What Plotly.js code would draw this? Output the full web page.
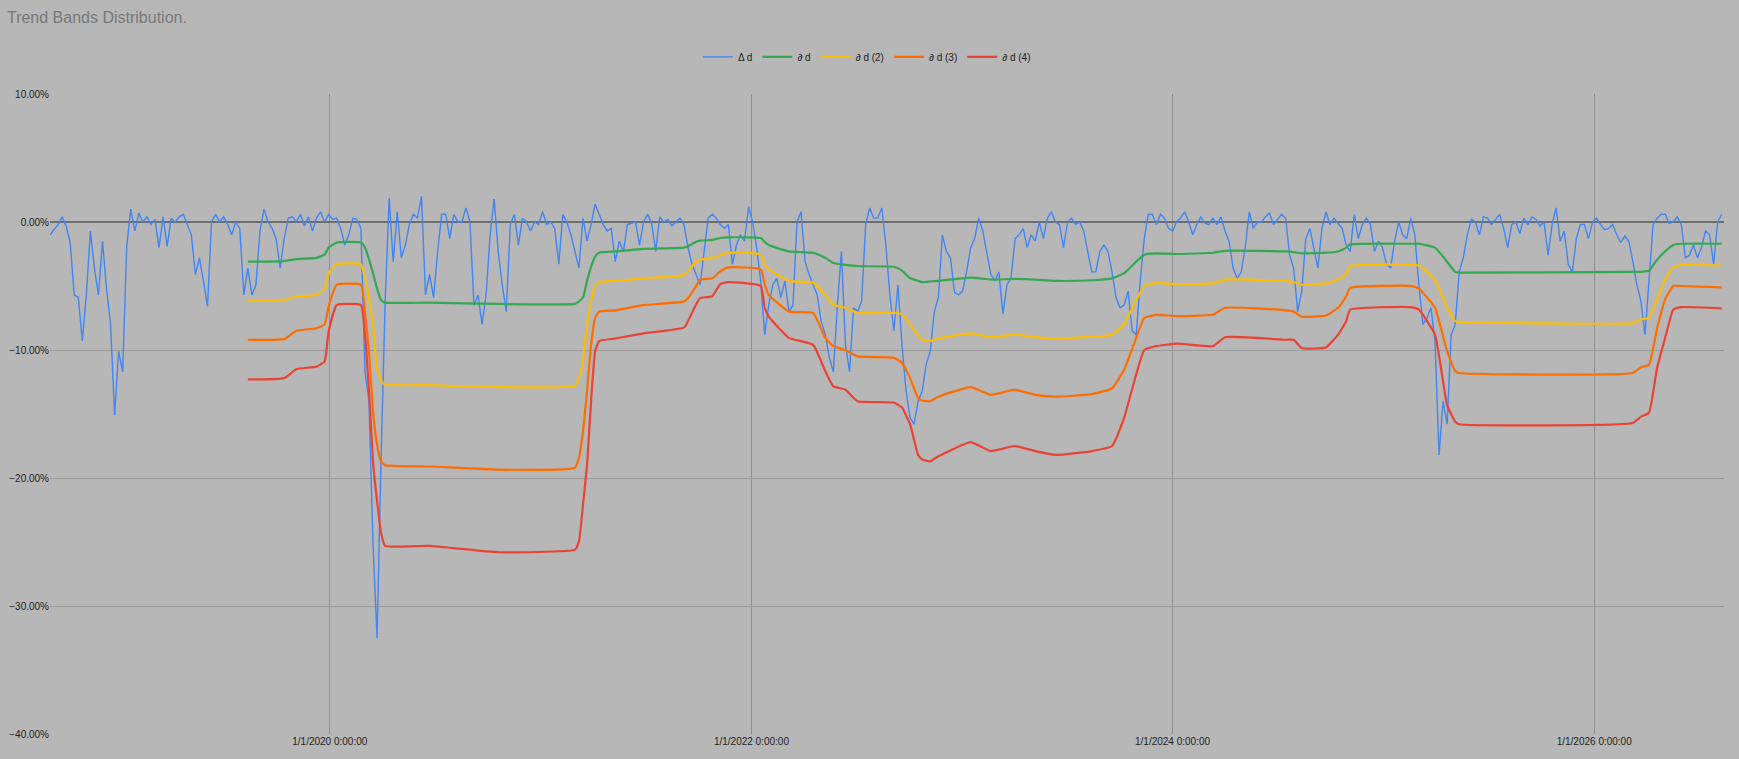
<!DOCTYPE html>
<html>
<head>
<meta charset="utf-8">
<script src="https://cdn.plot.ly/plotly-3.0.1.min.js"></script>
<style>
  html, body { margin: 0; padding: 0; background: #b7b7b7; }
  #plotly { width: 1739px; height: 759px; }
</style>
</head>
<body>
<div id="plotly"></div>
<script>
// weekly samples, first one on 2018-09-03 (percent values)
var startDate = '2018-09-03';

var deltaD = [
  -1.0,-0.6,-0.2,0.4,-0.3,-1.6,-5.7,-5.9,-9.3,-5.7,
  -0.7,-3.6,-5.7,-1.5,-5.2,-8.0,-15.1,-10.1,-11.7,-1.9,
  1.0,-0.7,0.7,0,0.4,-0.2,0.2,-2.0,0.4,-1.9,
  0.3,0,0.4,0.6,-0.2,-1.0,-4.1,-2.8,-4.6,-6.6,
  0,0.6,0,0.4,-0.2,-1.0,0,-0.5,-5.7,-3.6,
  -5.7,-4.9,-0.7,1.0,0,-0.5,-1.3,-3.6,-1.3,0.3,
  0.4,0,0.6,-0.3,0.4,-0.7,0.3,0.8,0,0.6,
  0.2,0.3,-0.5,-1.8,-1.0,0.3,0.2,-0.5,-11.7,-14.0,
  -25.2,-32.5,-18.4,-6.2,1.9,-3.1,0.8,-2.8,-1.8,-0.2,
  0.6,0.3,2.0,-5.7,-4.1,-5.9,-2.3,0.6,0.6,-1.3,
  0.6,0,0,1.1,0,-6.5,-5.7,-8.0,-5.7,-1.0,
  1.8,-2.3,-4.9,-7.0,-0.2,0.6,-1.8,0.3,0,-0.7,
  0,-0.2,0.8,-0.2,0,-0.5,-3.3,0.6,0,-1.0,
  -2.3,-3.6,0.3,-1.5,-0.2,1.4,0.6,-0.2,-0.7,-0.5,
  -3.1,-1.5,-2.3,-0.2,-0.1,0,-1.8,0,0.6,-0.1,
  -2.3,0.4,0,0.2,-0.3,0,0.3,-0.2,-2.0,-3.3,
  -4.1,-4.9,-2.3,0.3,0.6,0.3,-0.2,-0.5,-0.2,-3.3,
  -1.8,-1.0,-1.5,1.2,0,-2.0,-4.6,-8.8,-6.5,-4.9,
  -4.4,-5.9,-4.6,-7.0,-6.5,0,0.8,-3.1,-4.1,-4.9,
  -5.7,-7.8,-8.8,-10.6,-11.7,-6.5,-2.3,-9.6,-11.7,-6.7,
  -7.0,-6.2,-0.2,1.1,0.3,0.3,1.1,-1.8,-5.7,-8.5,
  -4.9,-9.6,-13.2,-15.3,-15.8,-14.0,-13.2,-11.1,-10.1,-7.0,
  -5.9,-1.0,-2.3,-2.8,-5.5,-5.7,-5.4,-3.9,-2.0,-1.3,
  0.3,-0.7,-2.3,-4.1,-4.6,-3.9,-7.2,-4.9,-4.4,-1.3,
  -1.0,-0.5,-2.0,-1.0,-1.5,0,-1.3,0.3,0.8,0,
  -0.2,-2.0,0,0.3,-0.2,0,-0.7,-2.3,-3.9,-3.9,
  -2.3,-1.8,-2.3,-3.9,-5.9,-6.7,-6.5,-5.4,-8.5,-8.8,
  -4.6,-1.3,0.6,0.6,-0.2,0.6,0.3,-0.5,-0.7,0,
  0.3,0.8,0,-1.0,-0.2,0.4,-0.1,-0.2,0.3,-0.2,
  0.4,-0.7,-1.5,-3.6,-4.4,-3.9,-2.0,0.8,-0.5,0,
  0,0.4,0.7,-0.2,0.2,0.6,0.3,-2.6,-3.6,-7.0,
  -5.4,-1.3,-0.5,-2.0,-3.6,-0.5,0.8,-0.2,0.3,-0.1,
  -0.5,-1.8,-2.3,0.6,-1.3,-0.2,0.3,-0.2,-2.3,-1.5,
  -2.0,-3.3,-3.6,-1.5,0,-1.0,-1.3,0.3,-1.0,-4.9,
  -8.0,-7.5,-6.7,-9.3,-18.2,-14.0,-15.8,-8.8,-8.0,-3.9,
  -2.8,-1.0,0.2,0,-1.0,0.4,0.3,-0.2,0.2,0.6,
  -0.5,-2.0,-0.2,0,-0.9,0.3,-0.2,0.4,0.2,-0.3,
  0,-2.6,-0.2,1.1,-1.5,-0.7,-3.3,-3.9,-1.3,-0.2,
  -0.2,-1.3,0,0.3,-0.2,-0.6,-0.5,-0.2,-1.0,-1.6,
  -1.1,-1.5,-3.1,-4.9,-6.2,-8.8,-4.6,-0.2,0.3,0.6,
  0.6,-0.1,0,0.4,-0.2,-2.8,-2.6,-1.8,-2.8,-2.0,
  -0.7,-1.0,-3.3,0,0.6
];

// band sample points, as week numbers counted from startDate
var bandWeeks = [
  49,58,61,66,68,69,71,77,78,79,
  80,81,82,83,94,111,130,131,132,133,
  134,135,136,140,147,157,158,160,161,164,
  166,168,176,177,178,183,189,192,194,197,
  200,209,211,213,215,216,218,220,228,233,
  239,244,249,258,263,266,269,271,274,279,
  288,291,306,308,310,316,319,321,322,337,
  339,343,346,348,349,392,394,396,398,400,
  402,404,414
];

var band1 = [
  -3.1,-3.05,-2.9,-2.8,-2.55,-2.0,-1.6,-1.6,-2.0,-2.9,
  -4.0,-5.2,-6.1,-6.3,-6.3,-6.4,-6.4,-6.2,-5.9,-4.6,
  -3.5,-2.7,-2.4,-2.3,-2.1,-2.0,-1.9,-1.55,-1.45,-1.4,
  -1.25,-1.2,-1.25,-1.55,-1.8,-2.3,-2.4,-2.8,-3.2,-3.35,
  -3.45,-3.5,-3.8,-4.4,-4.6,-4.7,-4.65,-4.6,-4.35,-4.5,
  -4.45,-4.5,-4.6,-4.55,-4.4,-4.0,-3.1,-2.55,-2.45,-2.5,
  -2.4,-2.25,-2.3,-2.35,-2.45,-2.4,-2.3,-2.0,-1.75,-1.7,
  -1.7,-2.0,-3.1,-3.9,-3.95,-3.9,-3.9,-3.8,-2.95,-2.3,
  -1.8,-1.7,-1.7
];

var band2 = [
  -6.15,-6.1,-5.8,-5.7,-5.2,-4.0,-3.3,-3.3,-4.4,-5.9,
  -8.3,-11.4,-12.4,-12.7,-12.75,-12.9,-12.8,-12.2,-10.9,-8.0,
  -6.2,-5.0,-4.7,-4.6,-4.4,-4.15,-3.85,-3.1,-2.95,-2.8,
  -2.6,-2.4,-2.55,-3.35,-3.7,-4.6,-4.75,-5.7,-6.45,-6.7,
  -7.1,-7.1,-7.2,-8.0,-8.9,-9.2,-9.3,-9.1,-8.7,-9.0,
  -8.8,-9.0,-9.1,-8.95,-8.8,-8.0,-6.1,-5.0,-4.75,-4.85,
  -4.8,-4.5,-4.6,-4.7,-4.9,-4.8,-4.5,-4.05,-3.45,-3.35,
  -3.4,-4.5,-6.7,-7.75,-7.8,-7.9,-7.6,-7.5,-6.05,-4.5,
  -3.55,-3.35,-3.4
];

var band3 = [
  -9.2,-9.15,-8.5,-8.3,-8.0,-6.6,-4.9,-4.9,-7.0,-10.1,
  -14.8,-17.4,-18.7,-19.0,-19.1,-19.35,-19.2,-18.4,-16.35,-13.2,
  -9.6,-7.5,-7.0,-6.9,-6.5,-6.2,-5.95,-5.0,-4.5,-4.4,
  -3.85,-3.55,-3.7,-4.9,-5.7,-7.0,-7.1,-9.05,-9.7,-10.0,
  -10.5,-10.6,-11.0,-12.2,-13.75,-13.95,-14.0,-13.65,-12.9,-13.5,
  -13.1,-13.5,-13.65,-13.45,-13.0,-11.55,-9.05,-7.5,-7.25,-7.35,
  -7.25,-6.7,-6.9,-7.0,-7.4,-7.3,-6.7,-5.8,-5.15,-5.0,
  -5.2,-6.7,-10.1,-11.65,-11.8,-11.8,-11.35,-11.15,-8.3,-6.05,
  -5.0,-5.0,-5.1
];

var band4 = [
  -12.3,-12.2,-11.5,-11.3,-10.9,-8.55,-6.5,-6.5,-8.8,-13.2,
  -18.7,-21.8,-24.3,-25.3,-25.3,-25.8,-25.6,-24.95,-22.1,-19.0,
  -14.0,-10.1,-9.3,-9.1,-8.7,-8.25,-7.75,-6.45,-5.95,-5.8,
  -4.85,-4.7,-5.0,-6.7,-7.4,-9.05,-9.6,-11.65,-12.85,-13.1,
  -14.0,-14.1,-14.5,-15.8,-18.2,-18.55,-18.7,-18.3,-17.2,-17.9,
  -17.5,-17.9,-18.2,-17.9,-17.5,-15.3,-11.9,-10.0,-9.7,-9.5,
  -9.7,-9.0,-9.2,-9.2,-9.85,-9.8,-8.8,-7.75,-6.85,-6.65,
  -6.85,-8.8,-14.3,-15.6,-15.8,-15.7,-15.2,-14.9,-11.4,-9.05,
  -6.85,-6.65,-6.75
];

var seriesNames = ['\u0394 d', '\u2202 d', '\u2202 d (2)', '\u2202 d (3)', '\u2202 d (4)'];
var tickDates = ['2020-01-01', '2022-01-01', '2024-01-01', '2026-01-01'];
var tickLabels = ['1/1/2020 0:00:00', '1/1/2022 0:00:00', '1/1/2024 0:00:00', '1/1/2026 0:00:00'];

function weekDate(w) {
  var t = Date.parse(startDate + 'T00:00:00Z') + w * 7 * 86400000;
  return new Date(t).toISOString().slice(0, 10);
}

function plotBands() {
  var blueX = deltaD.map(function (v, i) { return weekDate(i); });
  var bandX = bandWeeks.map(weekDate);
  var colors = ['#4285f4', '#34a853', '#fbbc04', '#ff6d01', '#ea4335'];
  var bands = [band1, band2, band3, band4];

  var traces = [{
    x: blueX, y: deltaD, mode: 'lines', name: seriesNames[0],
    line: {color: colors[0], width: 1.4}, type: 'scatter'
  }];
  for (var i = 0; i < 4; i++) {
    traces.push({
      x: bandX, y: bands[i], mode: 'lines', name: seriesNames[i + 1],
      line: {color: colors[i + 1], width: 2.2, shape: 'spline', smoothing: 0.4},
      type: 'scatter'
    });
  }

  var layout = {
    width: 1739, height: 759,
    paper_bgcolor: '#b7b7b7', plot_bgcolor: '#b7b7b7',
    font: {family: 'Liberation Sans, Arial, sans-serif', size: 10, color: '#222'},
    margin: {l: 50, r: 15, t: 94, b: 25},
    title: {
      text: 'Trend Bands Distribution.', xref: 'container', yref: 'container',
      x: 0.004, xanchor: 'left', y: 0.977, yanchor: 'middle',
      font: {size: 16, color: '#777777'}
    },
    showlegend: true,
    legend: {
      orientation: 'h', x: 0.488, xanchor: 'center', y: 1.058, yanchor: 'middle',
      font: {size: 10, color: '#222'}, itemwidth: 30, bgcolor: 'rgba(0,0,0,0)'
    },
    xaxis: {
      type: 'date', range: ['2018-09-03', '2026-08-14'],
      tickmode: 'array', tickvals: tickDates, ticktext: tickLabels,
      showgrid: true, gridcolor: '#8e8e8e', gridwidth: 1,
      zeroline: false, showline: false, ticks: '', tickfont: {size: 10}
    },
    yaxis: {
      range: [-40, 10], dtick: 10, tick0: 0,
      tickformat: '.2f', ticksuffix: '%',
      showgrid: true, gridcolor: '#9a9a9a', gridwidth: 1,
      zeroline: true, zerolinecolor: '#6d6d6d', zerolinewidth: 2,
      showline: false, ticks: '', tickfont: {size: 10}
    }
  };

  Plotly.newPlot('plotly', traces, layout, {displayModeBar: false, staticPlot: true});
}
plotBands();
</script>
</body>
</html>
